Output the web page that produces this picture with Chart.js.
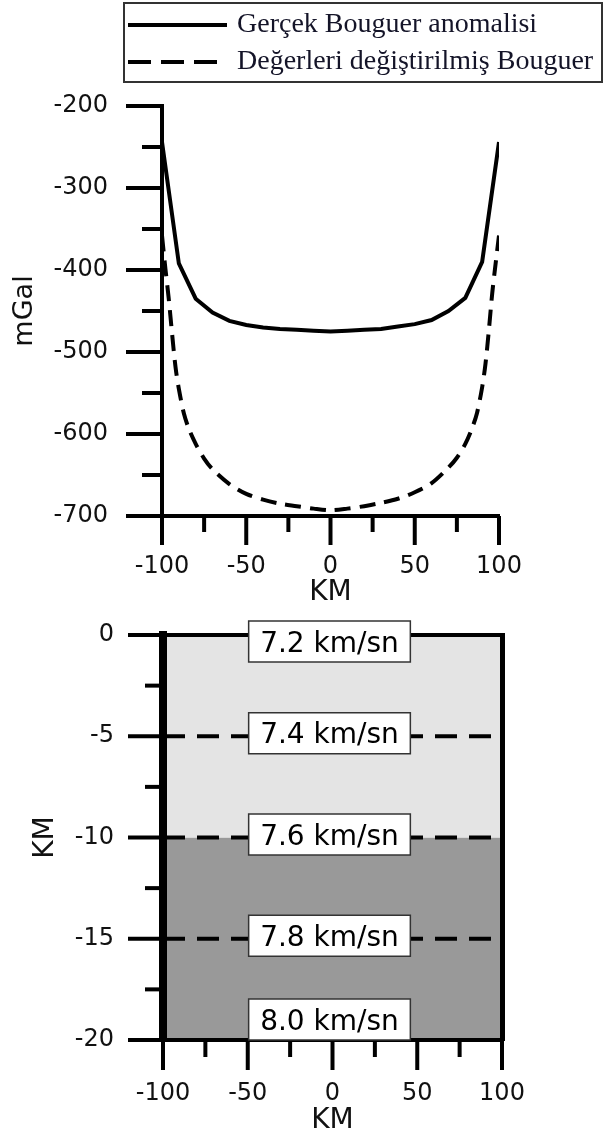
<!DOCTYPE html>
<html>
<head>
<meta charset="utf-8">
<script src="https://cdn.jsdelivr.net/npm/chart.js@4.4.0/dist/chart.umd.min.js"></script>
<style>
  body { margin: 0; background: #fff; }
  canvas { display: block; }
</style>
</head>
<body>
<canvas id="gravity" width="606" height="612"></canvas>
<canvas id="layers" width="606" height="526"></canvas>
<script>
'use strict'

// Bouguer profiles (km, mGal)
let kmObserved = [-100, -90, -80, -70, -60, -50, -40, -30, -20, -10, 0, 10, 20, 30, 40, 50, 60, 70, 80, 90, 100]
let observedMgal = [-244, -392, -435, -452, -462, -467, -470, -472, -473, -474, -475, -474, -473, -472, -469, -466, -461, -450, -434, -390, -244]

let kmModified = [-100, -98, -96, -94, -92, -90, -87, -84, -80, -75, -70, -60, -50, -40, -30, -20, -10, 0, 10, 20, 30, 40, 50, 60, 70, 75, 80, 84, 87, 90, 92, 94, 96, 98, 100]
let modifiedMgal = [-358, -398, -435, -478, -518, -545, -575, -594, -612, -630, -643, -661, -673, -680, -685, -688, -691, -693, -691, -688, -684, -679, -671, -660, -641, -629, -612, -593, -574, -543, -514, -473, -428, -392, -358]

let profileLabels = ['Gerçek Bouguer anomalisi', 'Değerleri değiştirilmiş Bouguer']

// Velocity model
let layerDepths = [0, -5, -10, -15, -20]
let velocities = ['7.2', '7.4', '7.6', '7.8', '8.0']
let upperZone = [0, -10]
let lowerZone = [-10, -20]
let profileEnds = [-100, 100]

Chart.defaults.font.family = '"DejaVu Sans", sans-serif'
Chart.defaults.color = '#111'

function xy(xs, ys) {
    return xs.map((x, i) => ({x: x, y: ys[i]}))
}

// fixed axis sizes, no extra label padding pushed into the layout
function fixSize(w, h) {
    return (s) => {
        if (w !== null) s.width = w
        if (h !== null) s.height = h
        s.paddingTop = s.paddingBottom = s.paddingLeft = s.paddingRight = 0
    }
}

// major / minor tick marks outside the plot
const tickMarks = {
    id: 'tickMarks',
    afterDraw(chart, args, opts) {
        const {ctx, chartArea, scales} = chart
        const x = scales.x, y = scales.y
        ctx.save()
        ctx.strokeStyle = '#000'
        ctx.lineWidth = 4
        for (let v = x.min; v <= x.max + 1e-9; v += opts.xMinor) {
            let px = x.getPixelForValue(v)
            let len = Math.abs(v % opts.xMajor) < 1e-9 ? opts.xLen[0] : opts.xLen[1]
            ctx.beginPath()
            ctx.moveTo(px, chartArea.bottom)
            ctx.lineTo(px, chartArea.bottom + len)
            ctx.stroke()
        }
        for (let v = y.min; v <= y.max + 1e-9; v += opts.yMinor) {
            let py = y.getPixelForValue(v)
            let len = Math.abs(v % opts.yMajor) < 1e-9 ? opts.yLen[0] : opts.yLen[1]
            ctx.beginPath()
            ctx.moveTo(chartArea.left, py)
            ctx.lineTo(chartArea.left - len, py)
            ctx.stroke()
        }
        ctx.restore()
    }
}

// boxed legend above the gravity plot
const boxLegend = {
    id: 'boxLegend',
    afterDraw(chart, args, opts) {
        const ctx = chart.ctx
        ctx.save()
        ctx.strokeStyle = '#333'
        ctx.lineWidth = 2
        ctx.strokeRect(124, 3, 478, 79)
        chart.data.datasets.forEach((ds, i) => {
            let ly = 25 + i * 37
            ctx.strokeStyle = '#000'
            ctx.lineWidth = 4
            ctx.setLineDash(ds.borderDash ? opts.dash : [])
            ctx.beginPath()
            ctx.moveTo(128, ly)
            ctx.lineTo(227, ly)
            ctx.stroke()
            ctx.setLineDash([])
            ctx.fillStyle = '#141428'
            ctx.font = '28px "Liberation Serif", serif'
            ctx.textBaseline = 'alphabetic'
            ctx.fillText(ds.label, 237, ly + 7)
        })
        ctx.restore()
    }
}

// velocity labels in white boxes
const velocityBoxes = {
    id: 'velocityBoxes',
    afterDraw(chart) {
        const {ctx, chartArea, scales} = chart
        ctx.save()
        ctx.font = '28px "DejaVu Sans", sans-serif'
        let h = 41
        velocities.forEach((v, i) => {
            let text = v + ' km/sn'
            let w = ctx.measureText(text).width + 23
            let cx = scales.x.getPixelForValue(0) - 3
            let cy = scales.y.getPixelForValue(layerDepths[i]) - 3
            if (cy - h / 2 < chartArea.top - 14) cy = chartArea.top - 14 + h / 2
            if (cy + h / 2 > chartArea.bottom) cy = chartArea.bottom - h / 2
            ctx.fillStyle = '#fff'
            ctx.fillRect(cx - w / 2, cy - h / 2, w, h)
            ctx.strokeStyle = '#333'
            ctx.lineWidth = 1.5
            ctx.strokeRect(cx - w / 2, cy - h / 2, w, h)
            ctx.fillStyle = '#000'
            ctx.textAlign = 'center'
            ctx.textBaseline = 'alphabetic'
            ctx.fillText(text, cx, cy + 10)
        })
        ctx.restore()
    }
}

let gravityChart = new Chart(document.getElementById('gravity'), {
    type: 'line',
    data: {
        datasets: [{
            label: profileLabels[0],
            data: xy(kmObserved, observedMgal),
            borderColor: '#000',
            borderWidth: 4,
            pointRadius: 0,
            tension: 0
        }, {
            label: profileLabels[1],
            data: xy(kmModified, modifiedMgal),
            borderColor: '#000',
            borderWidth: 4,
            borderDash: [16, 9],
            pointRadius: 0,
            tension: 0.3
        }]
    },
    options: {
        responsive: false,
        animation: false,
        layout: {padding: {top: 106, right: 107, left: 0, bottom: 0}},
        plugins: {
            legend: {display: false},
            tooltip: {enabled: false},
            tickMarks: {xMajor: 50, xMinor: 25, xLen: [29, 16], yMajor: 100, yMinor: 50, yLen: [36, 20]},
            boxLegend: {dash: [23, 10]}
        },
        scales: {
            x: {
                type: 'linear', min: -100, max: 100,
                grid: {drawOnChartArea: false, drawTicks: false},
                border: {color: '#000', width: 4},
                ticks: {stepSize: 50, padding: 36, font: {size: 24}},
                title: {display: true, text: 'KM', font: {size: 28}, padding: {top: 0, bottom: 2}},
                afterFit: fixSize(null, 96)
            },
            y: {
                min: -700, max: -200,
                grid: {drawOnChartArea: false, drawTicks: false},
                border: {color: '#000', width: 4},
                ticks: {stepSize: 100, padding: 54, font: {size: 24}},
                title: {display: true, text: 'mGal', font: {size: 27}, padding: {top: 9, bottom: 0}},
                afterFit: fixSize(162, null)
            }
        }
    },
    plugins: [tickMarks, boxLegend]
})

let layerChart = new Chart(document.getElementById('layers'), {
    type: 'line',
    data: {
        datasets: [
            ...layerDepths.slice(1, 4).map((d) => ({
                data: xy(profileEnds, [d, d]),
                borderColor: '#000',
                borderWidth: 4,
                borderDash: [22, 12],
                pointRadius: 0,
                fill: false,
                order: 0
            })),
            {
                data: xy(profileEnds, [upperZone[0], upperZone[0]]),
                borderColor: '#000',
                borderWidth: 4,
                pointRadius: 0,
                fill: {value: upperZone[1]},
                backgroundColor: '#e4e4e4',
                clip: 4,
                order: 2
            },
            {
                data: xy(profileEnds, [lowerZone[0], lowerZone[0]]),
                borderWidth: 0,
                pointRadius: 0,
                fill: {value: lowerZone[1]},
                backgroundColor: '#999999',
                order: 3
            }
        ]
    },
    options: {
        responsive: false,
        animation: false,
        layout: {padding: {top: 23, right: 104, left: 0, bottom: 0}},
        plugins: {
            legend: {display: false},
            tooltip: {enabled: false},
            tickMarks: {xMajor: 50, xMinor: 25, xLen: [30, 17], yMajor: 5, yMinor: 2.5, yLen: [35, 18]}
        },
        scales: {
            x: {
                type: 'linear', min: -100, max: 100,
                grid: {drawOnChartArea: false, drawTicks: false},
                border: {color: '#000', width: 4, z: 1},
                ticks: {stepSize: 50, padding: 39, font: {size: 24}},
                title: {display: true, text: 'KM', font: {size: 28}, padding: {top: 0, bottom: 0}},
                afterFit: fixSize(null, 98)
            },
            y: {
                min: -20, max: 0,
                grid: {drawOnChartArea: false, drawTicks: false},
                border: {color: '#000', width: 8, z: 1},
                ticks: {stepSize: 5, padding: 49, font: {size: 24}},
                title: {display: true, text: 'KM', font: {size: 28}, padding: {top: 29, bottom: 0}},
                afterFit: fixSize(163, null)
            },
            right: {
                position: 'right', min: -20, max: 0,
                grid: {drawOnChartArea: false, drawTicks: false},
                border: {color: '#000', width: 5, z: 1},
                ticks: {display: false},
                afterFit: fixSize(0, null)
            }
        }
    },
    plugins: [tickMarks, velocityBoxes]
})
</script>
</body>
</html>
